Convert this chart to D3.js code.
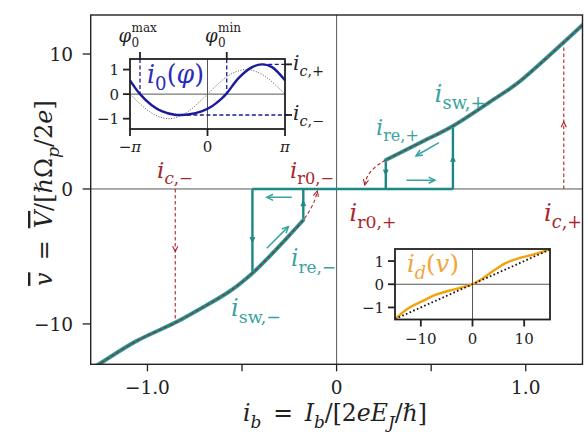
<!DOCTYPE html>
<html><head><meta charset="utf-8">
<script src="https://cdn.jsdelivr.net/npm/d3@7"></script>
<style>
body{margin:0;background:#fff}
svg{display:block}
</style>
</head><body>
<svg id="c" width="588" height="435" font-family="'DejaVu Serif', 'Liberation Serif', serif"></svg>
<script>
// ---------------- data ----------------
const xTicks = [-1.0, -0.5, 0, 0.5, 1.0];
const xTickLabels = ["\u22121.0", "", "0", "", "1.0"];
const yTicks = [-10, 0, 10];
const yTickLabels = ["\u221210", "0", "10"];

// stationary branches of the IV curve (i_b, v)
const negBranchIb = [-1.30, -1.258, -1.064, -0.853, -0.748, -0.563, -0.445, -0.352, -0.262, -0.176];
const negBranchV  = [-13.33, -12.99, -11.31, -9.90, -9.09, -7.56, -6.24, -4.95, -3.62, -2.30];
const posBranchIb = [0.260, 0.439, 0.615, 0.809, 0.951, 1.057, 1.201, 1.30];
const posBranchV  = [2.15, 3.41, 4.67, 6.44, 7.78, 9.04, 10.87, 12.15];
// dashed continuation down to v = 0
const negExtIb = [-0.176, -0.141, -0.115, -0.102];
const negExtV  = [-2.30, -1.56, -0.81, -0.15];
const posExtIb = [0.258, 0.211, 0.176, 0.155, 0.149];
const posExtV  = [2.13, 1.70, 1.21, 0.67, 0.30];
// characteristic currents
const iSwNeg = -0.445, vSwNeg = -6.24;
const iReNeg = -0.176, vReNeg = -2.30;
const iCNeg = -0.853, vCNeg = -9.90;
const iSwPos = 0.615, vSwPos = 4.67;
const iRePos = 0.260, vRePos = 2.15;
const iCPos = 1.201, vCPos = 10.87;

// inset 1: i0(phi)
const phiPts = [-3.1416, -2.736, -2.262, -1.857, -1.323, -1.05, -0.78, -0.24, 0.166, 0.57, 0.78, 1.25, 1.79, 2.20, 2.60, 3.1416];
const i0Pts  = [0.56, 0.0, -0.45, -0.69, -0.84, -0.85, -0.83, -0.70, -0.50, -0.18, 0.03, 0.64, 1.09, 1.21, 1.11, 0.56];
const sinPhi = [-3.1416,-2.7489,-2.3562,-1.9635,-1.5708,-1.1781,-0.7854,-0.3927,0,0.3927,0.7854,1.1781,1.5708,1.9635,2.3562,2.7489,3.1416];
const sinVal = [0,-0.38,-0.71,-0.92,-1,-0.92,-0.71,-0.38,0,0.38,0.71,0.92,1,0.92,0.71,0.38,0];
const phi0Max = -2.736, phi0Min = 0.78;
const icPlusInset = 1.21, icMinusInset = -0.85;
const phiMinLoc = -1.10, phiMaxLoc = 2.20;
const inset1YTicks = [1, 0, -1];
const inset1YLabels = ["1", "0", "\u22121"];
const inset1XTicks = [-Math.PI, 0, Math.PI];

// inset 2: i_d(v)
const vD  = [-15, -12.4, -9.8, -7.2, -4.7, -2.1, 0, 1.8, 3.8, 6.3, 8.9, 11.5, 13.5, 15];
const iD  = [-1.5, -1.03, -0.74, -0.46, -0.29, -0.14, 0, 0.23, 0.54, 0.90, 1.12, 1.26, 1.40, 1.5];
const vLin = [-15, 15];
const iLin = [-1.5, 1.5];
const inset2YTicks = [1, 0, -1];
const inset2YLabels = ["1", "0", "\u22121"];
const inset2XTicks = [-10, 0, 10];
const inset2XLabels = ["\u221210", "0", "10"];

// ---------------- styles ----------------
const TEAL = "#1c8886", TEAL_L = "#3aa3a0", RED = "#b2222a", RED_T = "#a8262c";
const NAVY = "#1a1a9a", BLUE_T = "#2b2bb8", ORANGE = "#f5a20a", ORANGE_T = "#f2a53a";
const INK = "#222";

const svg = d3.select("#c");
svg.append("rect").attr("width",588).attr("height",435).attr("fill","#fff");

const M = {l:90.7, r:582.5, t:15, b:364.3};
const x = d3.scaleLinear().domain([-1.3,1.3]).range([M.l,M.r]);
const y = d3.scaleLinear().domain([-12.99,12.89]).range([M.b,M.t]);

svg.append("defs").append("clipPath").attr("id","clipMain")
  .append("rect").attr("x",M.l).attr("y",M.t).attr("width",M.r-M.l).attr("height",M.b-M.t);

const plot = svg.append("g").attr("clip-path","url(#clipMain)");

// zero lines
plot.append("line").attr("x1",M.l).attr("x2",M.r).attr("y1",y(0)).attr("y2",y(0)).attr("stroke","#444").attr("stroke-width",0.9);
plot.append("line").attr("x1",x(0)).attr("x2",x(0)).attr("y1",M.t).attr("y2",M.b).attr("stroke","#444").attr("stroke-width",0.9);

function arrowHead(g, px, py, ang, size, color, w){
  const th = 0.45;
  const p = `M${px - size*Math.cos(ang-th)},${py - size*Math.sin(ang-th)}L${px},${py}L${px - size*Math.cos(ang+th)},${py - size*Math.sin(ang+th)}`;
  g.append("path").attr("d",p).attr("fill","none").attr("stroke",color).attr("stroke-width",w).attr("stroke-linejoin","miter");
}

// red dashed critical current lines
const dashR = "3.5,2.5";
plot.append("line").attr("x1",x(iCNeg)).attr("x2",x(iCNeg)).attr("y1",y(0)).attr("y2",y(vCNeg))
  .attr("stroke",RED).attr("stroke-width",1.1).attr("stroke-dasharray",dashR);
arrowHead(plot, x(iCNeg), y(-4.64), Math.PI/2, 6, RED, 1.1);
plot.append("line").attr("x1",x(iCPos)).attr("x2",x(iCPos)).attr("y1",y(0)).attr("y2",y(vCPos))
  .attr("stroke",RED).attr("stroke-width",1.1).attr("stroke-dasharray",dashR);
arrowHead(plot, x(iCPos), y(4.98), -Math.PI/2, 6, RED, 1.1);

// teal hysteresis loop
const loop = plot.append("g").attr("fill","none").attr("stroke",TEAL).attr("stroke-width",2.4);
loop.append("line").attr("x1",x(iSwNeg)).attr("x2",x(iSwPos)).attr("y1",y(0)).attr("y2",y(0));
loop.append("line").attr("x1",x(iSwNeg)).attr("x2",x(iSwNeg)).attr("y1",y(0)).attr("y2",y(vSwNeg));
loop.append("line").attr("x1",x(iReNeg)).attr("x2",x(iReNeg)).attr("y1",y(0)).attr("y2",y(vReNeg));
loop.append("line").attr("x1",x(iSwPos)).attr("x2",x(iSwPos)).attr("y1",y(0)).attr("y2",y(vSwPos));
loop.append("line").attr("x1",x(iRePos)).attr("x2",x(iRePos)).attr("y1",y(0)).attr("y2",y(vRePos));

const line = d3.line().x(d=>x(d[0])).y(d=>y(d[1])).curve(d3.curveCatmullRom);
const negB = negBranchIb.map((v,i)=>[v,negBranchV[i]]);
const posB = posBranchIb.map((v,i)=>[v,posBranchV[i]]);
[negB,posB].forEach(b=>{
  plot.append("path").attr("d",line(b)).attr("fill","none").attr("stroke",TEAL_L).attr("stroke-width",4).attr("stroke-linecap","round");
  plot.append("path").attr("d",line(b)).attr("fill","none").attr("stroke",TEAL).attr("stroke-width",2.4);
});
// red dashed stationary curve
const negRed = negB.concat(negExtIb.slice(1).map((v,i)=>[v,negExtV[i+1]]));
const posRed = posExtIb.map((v,i)=>[v,posExtV[i]]).reverse().concat(posB.slice(1));
[negRed,posRed].forEach(b=>{
  plot.append("path").attr("d",line(b)).attr("fill","none").attr("stroke",RED).attr("stroke-width",1.1).attr("stroke-dasharray",dashR);
});
{
  const n = negExtIb.length;
  const a = Math.atan2(y(negExtV[n-1])-y(negExtV[n-2]), x(negExtIb[n-1])-x(negExtIb[n-2]));
  arrowHead(plot, x(negExtIb[n-1]), y(negExtV[n-1]), a, 6, RED, 1.1);
  const m = posExtIb.length;
  const b = Math.atan2(y(posExtV[m-1])-y(posExtV[m-2]), x(posExtIb[m-1])-x(posExtIb[m-2]));
  arrowHead(plot, x(posExtIb[m-1]), y(posExtV[m-1]), b, 6, RED, 1.1);
}
// arrowheads on loop verticals
arrowHead(plot, x(iSwNeg), y(-3.9), Math.PI/2, 5, TEAL, 1.5);
arrowHead(plot, x(iReNeg), y(-0.94), -Math.PI/2, 5, TEAL, 1.5);
arrowHead(plot, x(iRePos), y(1.1), Math.PI/2, 5, TEAL, 1.5);
arrowHead(plot, x(iSwPos), y(2.35), -Math.PI/2, 5, TEAL, 1.5);

// free teal arrows
function freeArrow(x0,y0,x1,y1){
  const X0=x(x0),Y0=y(y0),X1=x(x1),Y1=y(y1);
  plot.append("line").attr("x1",X0).attr("y1",Y0).attr("x2",X1).attr("y2",Y1).attr("stroke",TEAL_L).attr("stroke-width",1.5);
  arrowHead(plot,X1,Y1,Math.atan2(Y1-Y0,X1-X0),7,TEAL_L,1.5);
}
freeArrow(-0.237,-0.62,-0.369,-0.62);
freeArrow(-0.369,-4.39,-0.255,-2.79);
freeArrow(0.369,0.65,0.520,0.65);
freeArrow(0.541,3.43,0.420,2.46);

// math label helper (optionally fitted to a target width)
function buildText(g, px, py, size, color, parts, anchor){
  const t = g.append("text").attr("x",px).attr("y",py).attr("font-size",size).attr("fill",color)
    .attr("text-anchor",anchor||"start");
  let cur = 0;
  parts.forEach(p=>{
    const s = t.append("tspan").text(p.t);
    const off = p.sub ? size*0.28 : p.sup ? -size*0.42 : 0;
    s.attr("dy", off-cur); cur = off;
    if(p.sub||p.sup) s.attr("font-size", size*0.72);
    if(p.it) s.attr("font-style","italic");
    if(p.ol) s.style("text-decoration","overline");
  });
  return t;
}
function mtext(g, px, py, size, color, parts, anchor, targetW){
  let t = buildText(g, px, py, size, color, parts, anchor);
  if(targetW){
    const w = t.node().getComputedTextLength();
    if(w>0){ t.remove(); t = buildText(g, px, py, size*targetW/w, color, parts, anchor); }
  }
  return t;
}
const L = 24;
mtext(svg, 175, 178, L, RED_T, [{t:"i",it:true},{t:"c",it:true,sub:true},{t:",\u2212",sub:true}], "middle", 36);
mtext(svg, 312, 178, L, RED_T, [{t:"i",it:true},{t:"r0,\u2212",sub:true}], "middle", 44);
mtext(svg, 373, 221, L, RED_T, [{t:"i",it:true},{t:"r0,+",sub:true}], "middle", 47);
mtext(svg, 563, 221, L, RED_T, [{t:"i",it:true},{t:"c",it:true,sub:true},{t:",+",sub:true}], "middle", 38);
mtext(svg, 460, 102, L, TEAL_L, [{t:"i",it:true},{t:"sw,+",sub:true}], "middle", 51);
mtext(svg, 397.5, 135, L, TEAL_L, [{t:"i",it:true},{t:"re,+",sub:true}], "middle", 43);
mtext(svg, 313.5, 266, L, TEAL_L, [{t:"i",it:true},{t:"re,\u2212",sub:true}], "middle", 45);
mtext(svg, 256, 316, L, TEAL_L, [{t:"i",it:true},{t:"sw,\u2212",sub:true}], "middle", 50);

// main frame + ticks
svg.append("rect").attr("x",M.l).attr("y",M.t).attr("width",M.r-M.l).attr("height",M.b-M.t)
  .attr("fill","none").attr("stroke",INK).attr("stroke-width",1.4);
xTicks.forEach((t,i)=>{
  svg.append("line").attr("x1",x(t)).attr("x2",x(t)).attr("y1",M.b).attr("y2",M.b+7).attr("stroke",INK).attr("stroke-width",1.3);
  if(xTickLabels[i]) svg.append("text").attr("x",x(t)).attr("y",394).attr("text-anchor","middle").attr("font-size",18.5).attr("fill",INK).text(xTickLabels[i]);
});
yTicks.forEach((t,i)=>{
  svg.append("line").attr("x1",M.l-8).attr("x2",M.l).attr("y1",y(t)).attr("y2",y(t)).attr("stroke",INK).attr("stroke-width",1.3);
  svg.append("text").attr("x",73).attr("y",y(t)+7).attr("text-anchor","end").attr("font-size",18.5).attr("fill",INK).text(yTickLabels[i]);
});
// axis labels
mtext(svg, 335, 421, 20, INK, [{t:"i",it:true},{t:"b",it:true,sub:true},{t:"\u2002=\u2002"},{t:"I",it:true},{t:"b",it:true,sub:true},{t:"/[2"},{t:"eE",it:true},{t:"J",it:true,sub:true},{t:"/\u210F]"}], "middle", 184);
{
  const t = mtext(svg, 0, 0, 21, INK, [{t:"v",it:true,ol:true},{t:"\u2002=\u2002"},{t:"V",it:true,ol:true},{t:"/[\u210F\u03A9"},{t:"p",it:true,sub:true},{t:"/2"},{t:"e",it:true},{t:"]"}], "middle", 186);
  t.attr("transform","translate(52,193) rotate(-90)");
}

// ---------------- inset 1 ----------------
const I1 = {l:130, r:285, t:59, b:129};
const xi = d3.scaleLinear().domain([-Math.PI,Math.PI]).range([I1.l,I1.r]);
const yi = d3.scaleLinear().domain([-1.42,1.43]).range([I1.b,I1.t]);
const g1 = svg.append("g");
g1.append("rect").attr("x",I1.l).attr("y",I1.t).attr("width",I1.r-I1.l).attr("height",I1.b-I1.t).attr("fill","#fff");
g1.append("line").attr("x1",I1.l).attr("x2",I1.r).attr("y1",yi(0)).attr("y2",yi(0)).attr("stroke","#555").attr("stroke-width",1);
g1.append("line").attr("x1",xi(0)).attr("x2",xi(0)).attr("y1",I1.t).attr("y2",I1.b).attr("stroke","#555").attr("stroke-width",1);
const li = d3.line().x(d=>xi(d[0])).y(d=>yi(d[1])).curve(d3.curveCatmullRom);
g1.append("path").attr("d",li(sinPhi.map((p,i)=>[p,sinVal[i]]))).attr("fill","none").attr("stroke","#555").attr("stroke-width",1).attr("stroke-dasharray","1,1.6");
const dashB = "4,2.5";
g1.append("line").attr("x1",xi(phi0Max)).attr("x2",xi(phi0Max)).attr("y1",I1.t).attr("y2",yi(0)).attr("stroke",NAVY).attr("stroke-width",1.3).attr("stroke-dasharray",dashB);
g1.append("line").attr("x1",xi(phi0Min)).attr("x2",xi(phi0Min)).attr("y1",I1.t).attr("y2",yi(0)).attr("stroke",NAVY).attr("stroke-width",1.3).attr("stroke-dasharray",dashB);
g1.append("line").attr("x1",xi(phiMaxLoc)).attr("x2",I1.r+7).attr("y1",yi(icPlusInset)).attr("y2",yi(icPlusInset)).attr("stroke",NAVY).attr("stroke-width",1.3).attr("stroke-dasharray",dashB);
g1.append("line").attr("x1",xi(phiMinLoc)).attr("x2",I1.r+7).attr("y1",yi(icMinusInset)).attr("y2",yi(icMinusInset)).attr("stroke",NAVY).attr("stroke-width",1.3).attr("stroke-dasharray",dashB);
g1.append("path").attr("d",li(phiPts.map((p,i)=>[p,i0Pts[i]]))).attr("fill","none").attr("stroke",NAVY).attr("stroke-width",2.4);
g1.append("rect").attr("x",I1.l).attr("y",I1.t).attr("width",I1.r-I1.l).attr("height",I1.b-I1.t).attr("fill","none").attr("stroke",INK).attr("stroke-width",1.8);
inset1YTicks.forEach((t,i)=>{
  g1.append("line").attr("x1",I1.l-7).attr("x2",I1.l).attr("y1",yi(t)).attr("y2",yi(t)).attr("stroke",INK).attr("stroke-width",1.8);
  g1.append("text").attr("x",119).attr("y",yi(t)+5.5).attr("text-anchor","end").attr("font-size",15).attr("fill",INK).text(inset1YLabels[i]);
});
inset1XTicks.forEach(t=>{
  g1.append("line").attr("x1",xi(t)).attr("x2",xi(t)).attr("y1",I1.b).attr("y2",I1.b+7).attr("stroke",INK).attr("stroke-width",1.8);
});
mtext(g1, xi(-Math.PI), 152, 15, INK, [{t:"\u2212"},{t:"\u03C0",it:true}], "middle");
mtext(g1, xi(0), 152, 15, INK, [{t:"0"}], "middle");
mtext(g1, xi(Math.PI), 152, 15, INK, [{t:"\u03C0",it:true}], "middle");
[phi0Max,phi0Min].forEach(t=>{
  g1.append("line").attr("x1",xi(t)).attr("x2",xi(t)).attr("y1",I1.t-7).attr("y2",I1.t).attr("stroke",INK).attr("stroke-width",1.8);
});
[icPlusInset,icMinusInset].forEach(t=>{
  g1.append("line").attr("x1",I1.r).attr("x2",I1.r+7).attr("y1",yi(t)).attr("y2",yi(t)).attr("stroke",INK).attr("stroke-width",1.8);
});
function phiLabel(cx, sup){
  g1.append("text").attr("x",cx).attr("y",42).attr("text-anchor","end").attr("font-size",18).attr("font-style","italic").attr("fill",INK).text("\u03C6");
  g1.append("text").attr("x",cx+0.5).attr("y",47).attr("font-size",12).attr("fill",INK).text("0");
  g1.append("text").attr("x",cx+0.5).attr("y",32).attr("font-size",12).attr("fill",INK).text(sup);
}
phiLabel(131, "max");
phiLabel(217.5, "min");
mtext(g1, 293, 70, 18, INK, [{t:"i",it:true},{t:"c",it:true,sub:true},{t:",+",sub:true}], "start", 31);
mtext(g1, 293, 120, 18, INK, [{t:"i",it:true},{t:"c",it:true,sub:true},{t:",\u2212",sub:true}], "start", 31);
mtext(g1, 147, 83, 22, BLUE_T, [{t:"i",it:true},{t:"0",sub:true},{t:"("},{t:"\u03C6",it:true},{t:")"}], "start", 57);

// ---------------- inset 2 ----------------
const I2 = {l:395, r:550, t:249, b:319.5};
const xd = d3.scaleLinear().domain([-15,15]).range([I2.l,I2.r]);
const yd = d3.scaleLinear().domain([-1.52,1.52]).range([I2.b,I2.t]);
const g2 = svg.append("g");
g2.append("rect").attr("x",I2.l).attr("y",I2.t).attr("width",I2.r-I2.l).attr("height",I2.b-I2.t).attr("fill","#fff");
g2.append("line").attr("x1",I2.l).attr("x2",I2.r).attr("y1",yd(0)).attr("y2",yd(0)).attr("stroke","#555").attr("stroke-width",1);
g2.append("line").attr("x1",xd(0)).attr("x2",xd(0)).attr("y1",I2.t).attr("y2",I2.b).attr("stroke","#555").attr("stroke-width",1);
const ld = d3.line().x(d=>xd(d[0])).y(d=>yd(d[1])).curve(d3.curveCatmullRom);
g2.append("path").attr("d",ld(vD.map((v,i)=>[v,iD[i]]))).attr("fill","none").attr("stroke",ORANGE).attr("stroke-width",2.4);
g2.append("path").attr("d",ld(vLin.map((v,i)=>[v,iLin[i]]))).attr("fill","none").attr("stroke","#111").attr("stroke-width",1.8).attr("stroke-dasharray","1.6,2.4");
g2.append("rect").attr("x",I2.l).attr("y",I2.t).attr("width",I2.r-I2.l).attr("height",I2.b-I2.t).attr("fill","none").attr("stroke",INK).attr("stroke-width",1.8);
inset2YTicks.forEach((t,i)=>{
  g2.append("line").attr("x1",I2.l-7).attr("x2",I2.l).attr("y1",yd(t)).attr("y2",yd(t)).attr("stroke",INK).attr("stroke-width",1.8);
  g2.append("text").attr("x",384).attr("y",yd(t)+5.5).attr("text-anchor","end").attr("font-size",15).attr("fill",INK).text(inset2YLabels[i]);
});
inset2XTicks.forEach((t,i)=>{
  g2.append("line").attr("x1",xd(t)).attr("x2",xd(t)).attr("y1",I2.b).attr("y2",I2.b+7).attr("stroke",INK).attr("stroke-width",1.8);
  g2.append("text").attr("x",xd(t)).attr("y",344).attr("text-anchor","middle").attr("font-size",15).attr("fill",INK).text(inset2XLabels[i]);
});
mtext(g2, 407, 272, 22, ORANGE_T, [{t:"i",it:true},{t:"d",it:true,sub:true},{t:"("},{t:"v",it:true},{t:")"}], "start", 52);
</script>
</body></html>
